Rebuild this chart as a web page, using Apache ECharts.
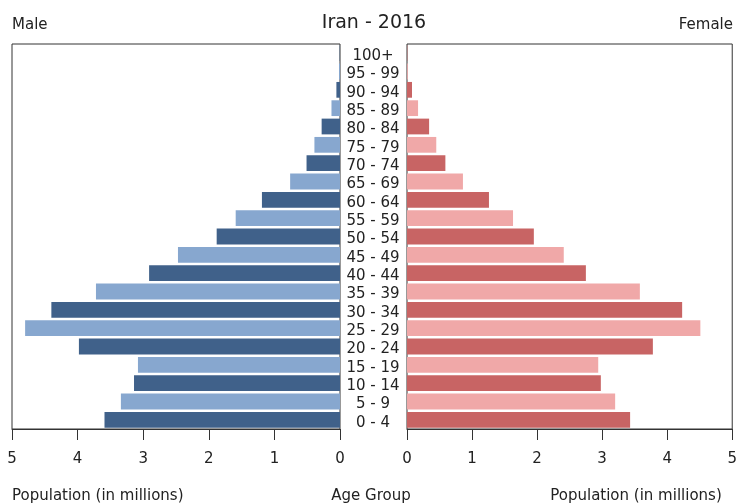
<!DOCTYPE html>
<html>
<head>
<meta charset="utf-8">
<script src="https://cdn.jsdelivr.net/npm/echarts@6/dist/echarts.min.js"></script>
<style>html,body{margin:0;padding:0;background:#fff}#c{width:740px;height:504px}</style>
</head>
<body>
<div id="c"></div>
<script>
var ageGroups = ['0 - 4','5 - 9','10 - 14','15 - 19','20 - 24','25 - 29','30 - 34','35 - 39','40 - 44','45 - 49','50 - 54','55 - 59','60 - 64','65 - 69','70 - 74','75 - 79','80 - 84','85 - 89','90 - 94','95 - 99','100+'];
var maleValues = [3.59,3.34,3.14,3.08,3.98,4.80,4.40,3.72,2.91,2.47,1.88,1.59,1.19,0.76,0.51,0.39,0.28,0.13,0.055,0.015,0.005];
var femaleValues = [3.43,3.20,2.98,2.94,3.78,4.51,4.23,3.58,2.75,2.41,1.95,1.63,1.26,0.86,0.59,0.45,0.34,0.17,0.077,0.012,0.005];
var popTicks = [0,1,2,3,4,5];

var FONT = 'DejaVu Sans';
var chart = echarts.init(document.getElementById('c'), null, {renderer:'canvas'});
function col(dark, light){ return function(p){ return p.dataIndex % 2 === 0 ? dark : light; }; }
function txt(size){ return {fontFamily:FONT, fontSize:size, fontWeight:'normal', color:'#222'}; }
var xCommon = {
  type:'value', min:popTicks[0], max:popTicks[popTicks.length-1], interval:1,
  splitLine:{show:false},
  axisLine:{show:true, lineStyle:{color:'#333', width:1}},
  axisTick:{show:true, inside:false, length:11, lineStyle:{color:'#333'}},
  axisLabel:{fontFamily:FONT, fontSize:15, color:'#222', margin:23}
};
chart.setOption({
  animation:false,
  title:[
    {text:'Iran - 2016', left:374, top:14, padding:0, textAlign:'center', textStyle:txt(19)},
    {text:'Male', left:12, top:18, padding:0, textStyle:txt(15)},
    {text:'Female', right:7, top:18, padding:0, textStyle:txt(15)},
    {text:'Population (in millions)', left:12, top:489, padding:0, textStyle:txt(15)},
    {text:'Age Group', left:371, top:489, padding:0, textAlign:'center', textStyle:txt(15)},
    {text:'Population (in millions)', left:636, top:489, padding:0, textAlign:'center', textStyle:txt(15)}
  ],
  grid:[
    {left:12, right:400, top:44, bottom:75, show:true, borderColor:'#333', borderWidth:1, containLabel:false},
    {left:407, right:6, top:44, bottom:75, show:true, borderColor:'#333', borderWidth:1, containLabel:false}
  ],
  xAxis:[
    Object.assign({gridIndex:0, inverse:true}, xCommon),
    Object.assign({gridIndex:1}, xCommon)
  ],
  yAxis:[
    {type:'category', gridIndex:0, position:'right', data:ageGroups,
     axisLine:{show:false}, axisTick:{show:false},
     axisLabel:{show:true, align:'center', verticalAlign:'top', lineHeight:6, margin:33, fontFamily:FONT, fontSize:15, color:'#222', interval:0}},
    {type:'category', gridIndex:1, data:ageGroups,
     axisLine:{show:false}, axisTick:{show:false}, axisLabel:{show:false}}
  ],
  series:[
    {type:'bar', xAxisIndex:0, yAxisIndex:0, data:maleValues, barCategoryGap:'14%',
     itemStyle:{color:col('#40618a','#87a7cf')}},
    {type:'bar', xAxisIndex:1, yAxisIndex:1, data:femaleValues, barCategoryGap:'14%',
     itemStyle:{color:col('#c86464','#f0a8a8')}}
  ]
});
</script>
</body>
</html>
